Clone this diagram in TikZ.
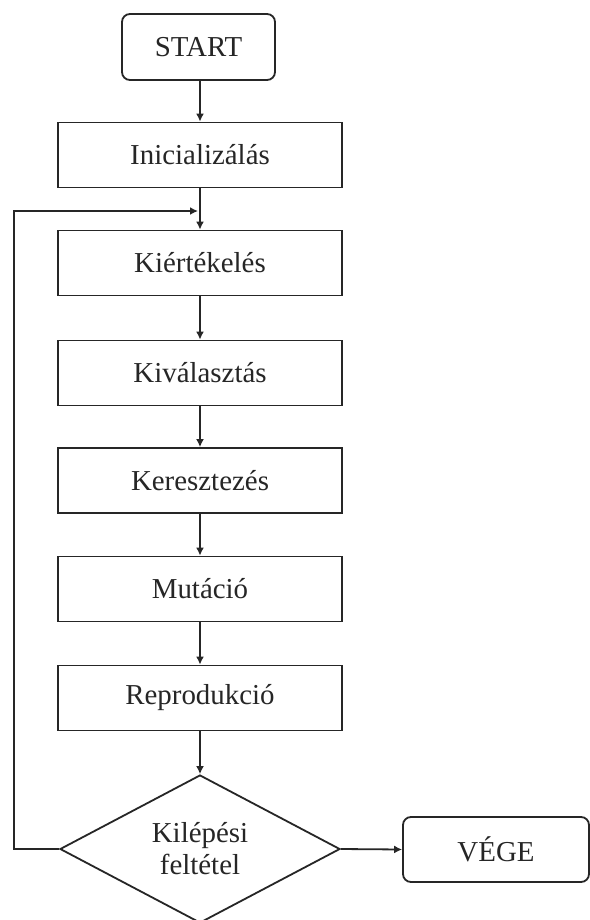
\documentclass[tikz,border=0pt]{standalone}
\usepackage{fontspec}
\setmainfont{Liberation Serif}
\usetikzlibrary{shapes.geometric,arrows.meta}

\begin{document}
\begin{tikzpicture}[x=1bp,y=-1bp,
  every node/.style={font=\fontsize{29}{34}\selectfont, text=black!85},
  stepbox/.style={draw=black!85, line width=1.8bp, rectangle, minimum width=284bp, minimum height=65bp, inner sep=0pt},
  termbox/.style={draw=black!85, line width=1.8bp, rectangle, rounded corners=8bp, inner sep=0pt},
  decision/.style={draw=black!85, line width=1.8bp, diamond, aspect=1.89, minimum width=280bp, minimum height=148bp, inner sep=0pt, align=center},
  flow/.style={draw=black!85, line width=1.8bp, -{Latex[length=8bp,width=8bp]}}]
  \useasboundingbox (0,0) rectangle (590,920);
  \fill[white] (0,0) rectangle (590,920);

  % terminals
  \node[termbox, minimum width=153bp, minimum height=66bp] (start) at (198.5,47) {START};
  \node[termbox, minimum width=186bp, minimum height=65bp] (vege) at (496,849.5) {VÉGE};

  % processing steps
  \node[stepbox] (init) at (200,155) {Inicializálás};
  \node[stepbox] (eval) at (200,263) {Kiértékelés};
  \node[stepbox] (sel)  at (200,373) {Kiválasztás};
  \node[stepbox] (cross) at (200,480.5) {Keresztezés};
  \node[stepbox] (mut)  at (200,589) {Mutáció};
  \node[stepbox] (repr) at (200,698) {Reprodukció};

  % exit condition
  \node[decision] (cond) at (200,849) {Kilépési\\[-2bp]feltétel};

  % main flow
  \draw[flow] (start.south -| init.north) -- (init.north);
  \draw[flow] (init) -- (eval);
  \draw[flow] (eval) -- (sel);
  \draw[flow] (sel) -- (cross);
  \draw[flow] (cross) -- (mut);
  \draw[flow] (mut) -- (repr);
  \draw[flow] (repr.south) -- (cond.north);
  \draw[flow] (cond.east) -- (vege.west);

  % loop back to evaluation
  \coordinate (loopbot) at (14,849);
  \coordinate (looptop) at (14,211);
  \coordinate (loopend) at (198,211);
  \draw[flow] (cond.west) -- (loopbot) -- (looptop) -- (loopend);
\end{tikzpicture}
\end{document}
